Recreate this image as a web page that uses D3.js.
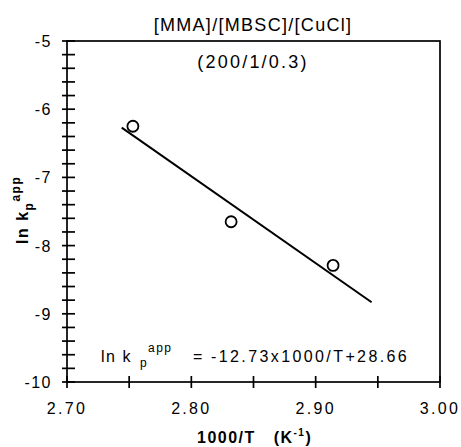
<!DOCTYPE html>
<html>
<head>
<meta charset="utf-8">
<style>
body { margin:0; background:#fff; font-family:"Liberation Sans", Arial, sans-serif; }
text { fill:#000; white-space:pre; }
</style>
<script src="https://cdn.jsdelivr.net/npm/d3@7"></script>
</head>
<body>
<script>
// data
var invT = [2.753, 2.832, 2.914];
var lnK = [-6.25, -7.65, -8.29];
var fitX = [2.744, 2.945];
var slope = -12.73, intercept = 28.66;
var xTicks = [2.70, 2.80, 2.90, 3.00];
var yTicks = [-5, -6, -7, -8, -9, -10];

var width = 461, height = 447;
var m = {left:67, right:21, top:41, bottom:65};

var svg = d3.select("body").append("svg")
  .attr("width", width).attr("height", height);

var x = d3.scaleLinear().domain([2.70, 3.00]).range([m.left, width - m.right]);
var y = d3.scaleLinear().domain([-10, -5]).range([height - m.bottom, m.top]);

// frame
svg.append("rect")
  .attr("x", x(2.70)).attr("y", y(-5))
  .attr("width", x(3.00) - x(2.70)).attr("height", y(-10) - y(-5))
  .attr("fill", "none").attr("stroke", "#000").attr("stroke-width", 1.7);

// y ticks, crossing the axis
var yMinor = d3.range(-10, -4.99, 0.2);
svg.selectAll(".ym").data(yMinor).enter().append("line")
  .attr("x1", x(2.70) - 5).attr("x2", x(2.70) + 8)
  .attr("y1", function(d){ return y(d); }).attr("y2", function(d){ return y(d); })
  .attr("stroke", "#000").attr("stroke-width", 1.7);
svg.selectAll(".yl").data(yTicks).enter().append("text")
  .attr("x", x(2.70) - 15).attr("y", function(d){ return y(d) + 6; })
  .attr("text-anchor", "end").style("font-size", "16px").style("letter-spacing", "1.5px")
  .text(function(d){ return d; });

// x ticks
var xMinor = d3.range(2.70, 3.001, 0.05);
svg.selectAll(".xm").data(xMinor).enter().append("line")
  .attr("x1", function(d){ return x(d); }).attr("x2", function(d){ return x(d); })
  .attr("y1", y(-10) - 6).attr("y2", y(-10) + 6)
  .attr("stroke", "#000").attr("stroke-width", 1.7);
svg.selectAll(".xl").data(xTicks).enter().append("text")
  .attr("x", function(d){ return x(d); }).attr("y", y(-10) + 32)
  .attr("text-anchor", "middle").style("font-size", "16px").style("letter-spacing", "2.3px")
  .text(function(d){ return d.toFixed(2); });

// fitted line
svg.append("line")
  .attr("x1", x(fitX[0])).attr("y1", y(slope * fitX[0] + intercept))
  .attr("x2", x(fitX[1])).attr("y2", y(slope * fitX[1] + intercept))
  .attr("stroke", "#000").attr("stroke-width", 2);

// points
svg.selectAll(".pt").data(invT).enter().append("circle")
  .attr("cx", function(d){ return x(d); })
  .attr("cy", function(d, i){ return y(lnK[i]); })
  .attr("r", 5.5).attr("fill", "#fff").attr("stroke", "#000").attr("stroke-width", 1.8);

// titles
svg.append("text").attr("x", 253).attr("y", 31).attr("text-anchor", "middle")
  .style("font-size", "18px").style("letter-spacing", "1.3px").text("[MMA]/[MBSC]/[CuCl]");
svg.append("text").attr("x", 253).attr("y", 68).attr("text-anchor", "middle")
  .style("font-size", "18px").style("letter-spacing", "2.2px").text("(200/1/0.3)");

// equation
var eq = svg.append("text").attr("y", 362).style("font-size", "16px").style("letter-spacing", "1.5px");
eq.append("tspan").attr("x", 101).text("ln k");
eq.append("tspan").attr("x", 140).attr("dy", 5).style("font-size", "12px").text("p");
eq.append("tspan").attr("x", 148).attr("dy", -15).style("font-size", "12px").text("app");
eq.append("tspan").attr("x", 193).attr("dy", 10).text("=");
eq.append("tspan").attr("x", 211).style("letter-spacing", "2.4px").text("-12.73x1000/T+28.66");

// axis labels
var yl = svg.append("text").attr("transform", "translate(28," + 244 + ") rotate(-90)")
  .style("font-size", "16px").style("font-weight", "bold").style("letter-spacing", "1.5px");
yl.append("tspan").text("ln k");
yl.append("tspan").attr("dy", 5).style("font-size", "12px").text("p");
yl.append("tspan").attr("dy", -13).style("font-size", "12px").text("app");

var xl = svg.append("text").attr("x", 197).attr("y", 443)
  .style("font-size", "16px").style("font-weight", "bold").style("letter-spacing", "1.5px");
xl.append("tspan").text("1000/T   (K");
xl.append("tspan").attr("dy", -7).style("font-size", "10px").text("-1");
xl.append("tspan").attr("dy", 7).text(")");
</script>
</body>
</html>
